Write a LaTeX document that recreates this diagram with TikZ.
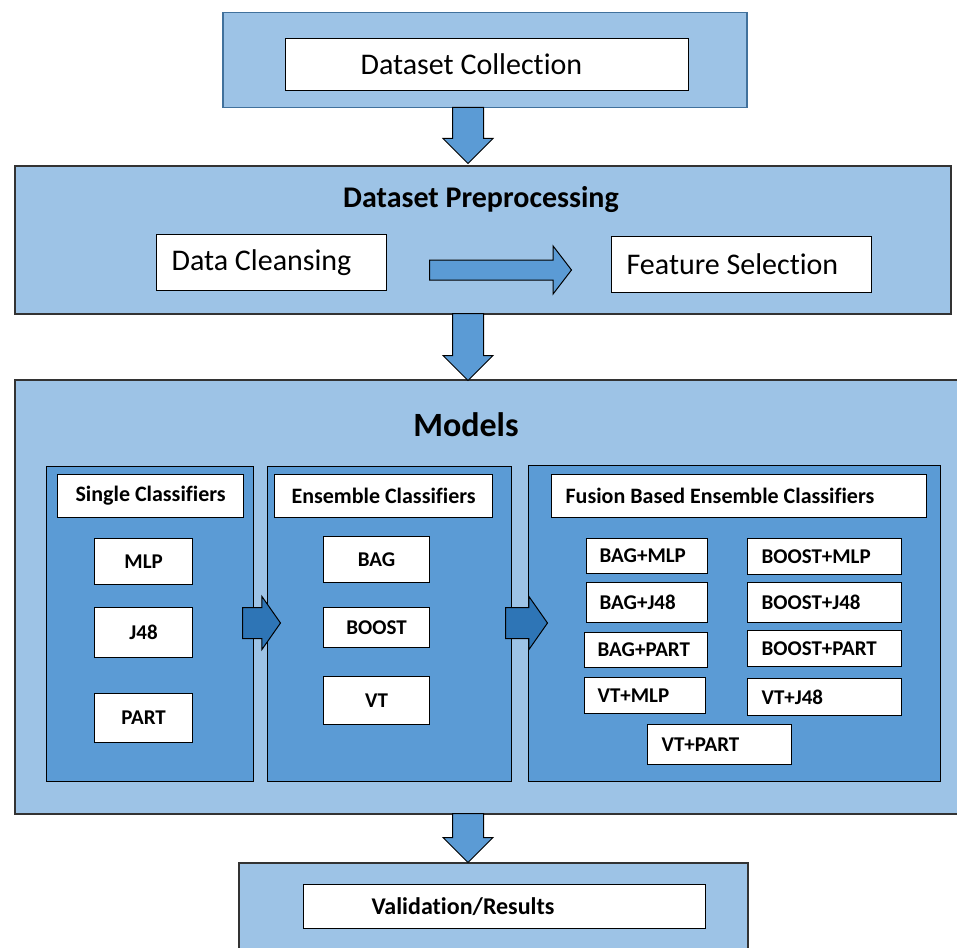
\documentclass[tikz,border=0pt]{standalone}
\usepackage{fontspec}
\setmainfont{Carlito}[Ligatures=NoCommon,Contextuals=NoAlternate]
\usetikzlibrary{shapes.arrows}
\definecolor{lightblue}{HTML}{9DC3E6}
\definecolor{midblue}{HTML}{5B9BD5}
\definecolor{darkblue}{HTML}{2E75B6}
\definecolor{steelblue}{HTML}{41719C}
\tikzset{
panel/.style={rectangle,draw=#1,fill=lightblue,line width=1.5pt,anchor=north west,inner sep=0pt},
panel/.default={black!80},
group/.style={rectangle,draw=black,fill=midblue,line width=1.3pt,anchor=north west,inner sep=0pt},
box/.style={rectangle,draw=black,fill=white,line width=1.2pt,anchor=north west,inner sep=0pt},
lbox/.style={box,align=flush left,inner xsep=#1},
big/.style={font=\fontsize{30}{36}\selectfont},
small/.style={font=\bfseries\fontsize{21}{25}\selectfont},
head/.style={font=\bfseries\fontsize{22}{26}\selectfont},
blockarrow/.style={single arrow,draw=black,line width=1pt,inner xsep=0pt,inner ysep=#1,anchor=tail},
blockarrow/.default=15
}

\begin{document}
\begin{tikzpicture}[x=1pt,y=-1pt]
\useasboundingbox (0,0) rectangle (957,947);
% panels
\node[panel=steelblue,minimum width=524,minimum height=95] (colpanel) at (222,12) {};
\node[panel,minimum width=936,minimum height=148] (prep) at (14,165) {};
\node[panel,minimum width=946,minimum height=434] (models) at (14,379) {};
\node[panel,minimum width=509,minimum height=100] (valpanel) at (238,862) {};
% dataset
\node[lbox=75,big,text width=253,minimum height=52] (coll) at (285,38) {Dataset Collection};
% preprocessing
\node[font=\bfseries\fontsize{30}{36}\selectfont] (preptitle) at (481,200) {Dataset Preprocessing};
\node[lbox=15,big,text width=200,minimum height=56] (clean) at (156,234) {Data Cleansing};
\node[lbox=15,big,text width=230,minimum height=56] (feat) at (611,236) {Feature Selection};
% models
\node[font=\bfseries\fontsize{34}{40}\selectfont] (modtitle) at (466,425) {Models};
\node[group,minimum width=207,minimum height=315] (single) at (46,466) {};
\node[group,minimum width=244,minimum height=315] (ensemble) at (267,466) {};
\node[group,minimum width=412,minimum height=316] (fusion) at (528,465) {};
\node[box,head,minimum width=186,minimum height=43] (singlet) at (57,474) {Single Classifiers};
\node[box,head,minimum width=218,minimum height=43] (ensemblet) at (274,474) {Ensemble Classifiers};
\node[lbox=14,head,text width=347,minimum height=43] (fusiont) at (551,474) {Fusion Based Ensemble Classifiers};
% single classifiers
\node[box,small,minimum width=98,minimum height=46] (mlp) at (94,538) {MLP};
\node[box,small,minimum width=98,minimum height=50] (j48) at (94,607) {J48};
\node[box,small,minimum width=98,minimum height=49] (part) at (94,693) {PART};
% ensemble classifiers
\node[box,small,minimum width=106,minimum height=46] (bag) at (323,536) {BAG};
\node[box,small,minimum width=106,minimum height=40] (boost) at (323,607) {BOOST};
\node[box,small,minimum width=106,minimum height=48] (vt) at (323,676) {VT};
% fusion classifiers
\node[lbox=13,small,text width=95,minimum height=35] (bagmlp) at (586,538) {BAG+MLP};
\node[lbox=13,small,text width=95,minimum height=40] (bagj48) at (586,582) {BAG+J48};
\node[lbox=13,small,text width=97,minimum height=35] (bagpart) at (584,632) {BAG+PART};
\node[lbox=13,small,text width=95,minimum height=36] (vtmlp) at (584,677) {VT+MLP};
\node[lbox=14,small,text width=126,minimum height=36] (boostmlp) at (747,538) {BOOST+MLP};
\node[lbox=14,small,text width=126,minimum height=40] (boostj48) at (747,582) {BOOST+J48};
\node[lbox=14,small,text width=126,minimum height=36] (boostpart) at (747,630) {BOOST+PART};
\node[lbox=14,small,text width=126,minimum height=37] (vtj48) at (747,678) {VT+J48};
\node[lbox=14,small,text width=116,minimum height=40] (vtpart) at (647,724) {VT+PART};
% validation
\node[lbox=68,font=\bfseries\fontsize{24}{28}\selectfont,text width=266,minimum height=44] (val) at (303,884) {Validation/Results};
% arrows
\node[blockarrow,fill=midblue,rotate=-90,minimum height=56,single arrow head extend=9.5] (a1) at (468,107) {};
\node[blockarrow,fill=midblue,rotate=-90,minimum height=67,single arrow head extend=9.5] (a2) at (468,313) {};
\node[blockarrow,fill=midblue,rotate=-90,minimum height=49,single arrow head extend=9.5] (a3) at (468,813) {};
\node[blockarrow=9.5,fill=midblue,minimum height=142,single arrow head extend=14,single arrow tip angle=105] (cleanarrow) at (429,270) {};
\node[blockarrow,fill=darkblue,minimum height=38,single arrow head extend=11,single arrow tip angle=110] (s1) at (242,623) {};
\node[blockarrow,fill=darkblue,minimum height=42,single arrow head extend=11,single arrow tip angle=110] (s2) at (505,623) {};
\end{tikzpicture}
\end{document}
